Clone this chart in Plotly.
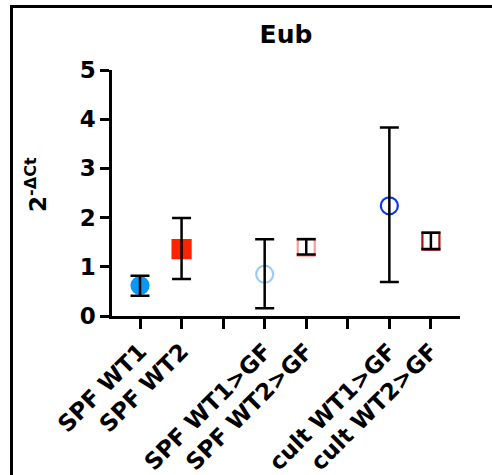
import plotly.graph_objects as go

# Data
slots = ["SPF WT1", "SPF WT2", "", "SPF WT1>GF", "SPF WT2>GF", "", "cult WT1>GF", "cult WT2>GF"]
groups = ["SPF WT1", "SPF WT2", "SPF WT1>GF", "SPF WT2>GF", "cult WT1>GF", "cult WT2>GF"]
means = [0.62, 1.36, 0.85, 1.40, 2.24, 1.52]
upper = [0.82, 1.99, 1.56, 1.56, 3.83, 1.69]
lower = [0.41, 0.75, 0.16, 1.25, 0.69, 1.36]
y_ticks = [0, 1, 2, 3, 4, 5]

# Styles
symbols = ["circle", "square", "circle-open", "square-open", "circle-open", "square-open"]
colors = ["#0A97F5", "#FF2200", "#9DCBF7", "#FF9A9A", "#0B35F2", "#9E1210"]
sizes = [17, 18, 17, 17, 17, 17]

xpos = [slots.index(g) for g in groups]

FONT = "DejaVu Sans, Liberation Sans, Arial"
W, H = 492, 475
L, R, T, B = 112, 460, 70, 316

fig = go.Figure()
for i, g in enumerate(groups):
    fig.add_trace(go.Scatter(
        x=[xpos[i]], y=[means[i]], mode="markers",
        marker=dict(symbol=symbols[i], color=colors[i], size=sizes[i],
                    line=dict(width=2.2, color=colors[i])),
        showlegend=False, hoverinfo="skip"))
for i, g in enumerate(groups):
    fig.add_trace(go.Scatter(
        x=[xpos[i]], y=[means[i]], mode="markers",
        marker=dict(size=1, color="rgba(0,0,0,0)"),
        error_y=dict(type="data", symmetric=False,
                     array=[upper[i] - means[i]], arrayminus=[means[i] - lower[i]],
                     color="black", thickness=2.5, width=9.5),
        showlegend=False, hoverinfo="skip"))

def px2x(p):
    return (p - L) / (R - L)

def py2y(p):
    return (B - p) / (B - T)

fig.update_layout(
    width=W, height=H,
    margin=dict(l=L, r=W - R, t=T, b=H - B, autoexpand=False),
    paper_bgcolor="white", plot_bgcolor="white",
    font=dict(family=FONT, color="black"),
    title=dict(text="<b>Eub</b>", x=(L + R) / 2 / W, xanchor="center",
               y=1 - 34 / H, yanchor="middle",
               font=dict(size=25, family=FONT, color="black")),
    xaxis=dict(range=[-0.674, 7.70], tickmode="array", tickvals=list(range(len(slots))),
               ticktext=slots, tickangle=-45, ticks="outside", ticklen=10, tickwidth=2.5,
               tickcolor="black", showline=True, linecolor="black", linewidth=2.5,
               showgrid=False, zeroline=False, automargin=False,
               tickfont=dict(size=23, family=FONT, weight="bold", color="black")),
    yaxis=dict(range=[0, 5], tickmode="array", tickvals=y_ticks, ticks="outside",
               ticklen=9, tickwidth=2.5, tickcolor="black", showline=True,
               linecolor="black", linewidth=2.5, showgrid=False, zeroline=False,
               automargin=False,
               tickfont=dict(size=23, family=FONT, weight="bold", color="black")),
)

fig.add_annotation(xref="paper", yref="paper", x=px2x(36), y=py2y(185),
                   xanchor="center", yanchor="middle", textangle=-90, showarrow=False,
                   text="<b>2<sup>-ΔCt</sup></b>",
                   font=dict(size=23, family=FONT, color="black"))

# partial outer frame (left and top)
fig.add_shape(type="line", xref="paper", yref="paper", x0=px2x(11.5), x1=px2x(11.5),
              y0=py2y(6.5), y1=py2y(476), line=dict(color="black", width=3))
fig.add_shape(type="line", xref="paper", yref="paper", x0=px2x(10), x1=px2x(493),
              y0=py2y(6.5), y1=py2y(6.5), line=dict(color="black", width=3))

fig.write_html("out.html", config={"displayModeBar": False},
               post_script="document.body.style.margin='0';")
